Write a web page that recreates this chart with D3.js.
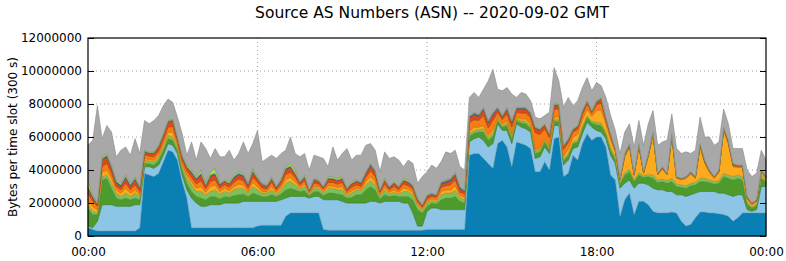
<!DOCTYPE html>
<html><head><meta charset="utf-8">
<script src="https://cdn.jsdelivr.net/npm/d3@7"></script>
<style>
html,body{margin:0;padding:0;background:#fff;}
svg{display:block;font-family:"DejaVu Sans",Verdana,sans-serif;}
</style></head>
<body>
<svg id="chart" width="786" height="261"></svg>
<script>
// Values in millions of bytes per 300 s slot; one point every 10 minutes, 00:00 .. 24:00
const minutes = d3.range(0, 1441, 10);
const xTickLabels = ["00:00", "06:00", "12:00", "18:00", "00:00"];
const yTickValues = [0, 2, 4, 6, 8, 10, 12];
const seriesNames = ["AS-a", "AS-b", "AS-c", "AS-d", "AS-e", "AS-f", "AS-g", "AS-h", "AS-i", "other"];

const asA = [.5,.4,.3,.3,.3,.3,.3,.3,.3,.3, .3,.5,3.8,3.7,3.6,3.8,4.5,5.2,5.1,4.6, 3.3,2.3,.5,.5,.5,.5,.5,.5,.5,.5,
 .5,.5,.5,.5,.5,.5,.6,.65,.65,.65, .65,.65,1.2,1.4,1.4,1.4,1.4,1.4,1.4,1.4, .4,.35,.35,.35,.35,.35,.35,.35,.35,.35,
 .35,.35,.35,.35,.35,.35,.35,.35,.35,.35, .35,.35,.4,.4,.4,.4,.4,.4,.4,.4, .4,4.9,5.0,5.0,4.7,4.4,4.1,5.6,5.8,5.4,
 4.2,5.7,5.6,5.5,5.3,3.9,3.9,4.5,4.0,5.9, 6.0,3.6,3.8,4.9,4.6,5.6,6.2,5.8,6.0,6.0, 5.4,3.7,3.4,1.2,2.2,2.6,1.3,2.1,2.1,1.9,
 1.5,1.4,1.4,1.4,1.45,1.4,.9,.6,.7,1.1, 1.45,1.45,1.4,1.4,1.35,1.3,1.2,.9,1.1,1.4, 1.4,1.4,1.4,1.4,1.4];
const asB = [.1,.1,.6,1.6,1.6,1.6,1.5,1.5,1.5,1.5, 1.6,1.4,.4,.5,.5,.5,.4,.4,.4,.4, .4,.5,1.8,1.5,1.3,1.3,1.4,1.4,1.4,1.5,
 1.5,1.5,1.5,1.6,1.6,1.6,1.5,1.45,1.45,1.45, 1.45,1.55,1.1,1.0,1.0,1.0,1.0,.9,1.0,1.0, 1.8,1.85,1.85,1.85,1.75,1.65,1.65,1.65,1.65,1.65,
 1.75,1.75,1.65,1.75,1.75,1.75,1.75,1.65,1.65,1.05, .25,.25,1.1,1.3,1.3,1.2,1.2,1.2,1.2,1.2, 1.2,.8,.9,1.0,1.1,1.0,1.5,1.2,.6,1.0,
 1.4,1.1,1.0,1.0,1.0,.8,.9,.9,1.0,.8, .7,.7,.8,.4,.8,.6,.7,.8,.4,.3, .5,1.2,1.0,1.7,1.0,.8,1.6,1.1,1.1,1.2,
 1.4,1.4,1.4,1.3,1.25,1.1,1.6,1.8,1.8,1.5, 1.25,1.25,1.3,1.3,1.25,1.3,1.3,1.5,1.4,1.1, .2,.1,.2,1.6,1.6];
const asC = [1.1,.8,.4,1.5,1.6,1.0,.5,.4,.5,.4, .4,.3,.2,.2,.2,.3,.3,.3,.3,.2, .3,.4,.4,.4,.5,.4,.5,.5,.35,.4,
 .35,.45,.5,.45,.3,.5,.4,.3,.3,.4, .3,.35,.5,.5,.4,.3,.35,.15,.3,.3, .25,.4,.4,.35,.4,.3,.35,.5,.5,.8,
 .9,.7,.25,.4,.3,.35,.3,.4,.4,.8, 1.0,.8,.3,.3,.25,.6,.7,.7,.8,.5, .4,.35,.35,.3,.5,.4,.45,.2,.2,.3,
 .3,.2,.25,.3,.25,.3,.3,.3,.25,.25, .25,.25,.3,.3,.3,.35,.3,.25,.35,.4, .3,.3,.25,.25,.5,.5,.4,.5,.35,.5,
 .6,.45,.5,.5,.6,.5,.45,.5,.55,.5, .6,.6,.55,.45,.6,1.0,1.0,1.0,1.0,.9, .35,.2,.25,.5,.3];
const asD = [.2,.2,.1,.2,.2,.3,.3,.2,.3,.2, .3,.2,.2,.15,.2,.2,.2,.2,.2,.2, .2,.3,.4,.3,.4,.3,.3,.4,.3,.3,
 .25,.35,.4,.35,.2,.4,.3,.2,.2,.3, .15,.25,.4,.4,.3,.15,.25,.1,.2,.2, .15,.3,.3,.25,.3,.15,.25,.3,.25,.3,
 .35,.3,.15,.3,.15,.2,.15,.3,.3,.3, .25,.15,.2,.15,.15,.3,.3,.3,.35,.2, .2,.15,.15,.15,.2,.15,.2,.1,.1,.15,
 .15,.1,.12,.15,.12,.15,.15,.1,.1,.1, .1,.1,.12,.1,.12,.1,.1,.1,.15,.15, .1,.15,.1,.1,.15,.15,.12,.15,.1,.15,
 .2,.15,.15,.15,.2,.15,.15,.15,.15,.15, .2,.2,.15,.15,.15,.2,.2,.2,.2,.2, .1,.08,.1,.2,.1];
const asE = [.3,.3,.2,.3,.3,.3,.2,.2,.3,.2, .2,.1,.1,.1,.1,.15,.2,.2,.3,.15, .15,.2,.2,.2,.3,.15,.3,.3,.15,.2,
 .15,.2,.25,.2,.1,.25,.2,.1,.1,.2, .1,.15,.25,.25,.2,.1,.15,.05,.1,.1, .1,.15,.15,.15,.2,.1,.15,.1,.1,.2,
 .25,.2,.1,.15,.1,.15,.1,.2,.15,.15, .1,.1,.1,.1,.1,.2,.2,.2,.3,.15, .15,.15,.2,.15,.2,.15,.2,.1,.1,.15,
 .15,.1,.13,.15,.13,.1,.1,.1,.1,.15, .2,.2,.25,.3,.35,.4,.4,.3,.7,.8, .5,.5,.35,.15,.95,1.35,.25,1.55,.15,1.05,
 2.4,.3,.6,.35,2.5,.35,.3,.45,.55,.25, 1.9,.9,.45,.2,.5,2.6,1.9,.6,.45,.55, .2,.12,.15,.2,.1];
const asF = [.4,.3,.2,.3,.4,.3,.2,.2,.3,.2, .3,.2,.2,.2,.2,.2,.25,.3,.35,.2, .25,.25,.25,.25,.35,.2,.3,.3,.2,.2,
 .2,.25,.3,.25,.2,.3,.25,.2,.15,.25, .15,.2,.3,.3,.25,.15,.2,.1,.2,.15, .15,.2,.2,.2,.25,.15,.2,.2,.15,.25,
 .35,.3,.15,.2,.15,.2,.15,.25,.2,.2, .15,.1,.15,.15,.15,.25,.25,.3,.35,.2, .2,.5,.45,.4,.6,.45,.55,.3,.25,.4,
 .4,.3,.35,.35,.35,1.0,.8,.6,.5,.5, .45,.4,.4,.3,.3,.3,.3,.2,.35,.4, .2,.2,.1,.05,.08,.08,.06,.08,.05,.08,
 .08,.05,.07,.05,.08,.05,.05,.05,.07,.05, .08,.08,.07,.05,.07,.08,.08,.08,.07,.07, .07,.05,.05,.05,.05];
const asG = [.3,.2,.1,.4,.4,.3,.2,.2,.3,.2, .3,.2,.2,.15,.2,.25,.25,.3,.35,.15, .2,.2,.25,.25,.35,.2,.3,.3,.2,.2,
 .2,.25,.25,.25,.2,.3,.2,.2,.15,.2, .12,.2,.25,.3,.2,.12,.2,.05,.2,.15, .1,.2,.2,.2,.2,.12,.2,.2,.2,.2,
 .3,.25,.1,.2,.12,.2,.12,.2,.2,.15, .1,.1,.15,.12,.1,.2,.2,.25,.3,.2, .15,.3,.3,.25,.35,.3,.35,.2,.17,.25,
 .25,.2,.23,.23,.23,.25,.25,.2,.17,.2, .2,.17,.15,.12,.15,.17,.12,.1,.15,.25, .12,.1,.06,.03,.06,.06,.04,.06,.03,.06,
 .06,.03,.05,.03,.06,.03,.03,.03,.05,.03, .06,.06,.05,.03,.05,.06,.06,.06,.05,.05, .05,.03,.03,.03,.03];
const asH = [.1,.1,.05,.1,.1,.1,.1,.1,.1,.1, .1,.05,.05,.05,.05,.05,.05,.05,.05,.05, .05,.05,.1,.1,.1,.05,.1,.1,.05,.05,
 .05,.1,.1,.1,.05,.1,.05,.05,.05,.05, .05,.05,.1,.1,.05,.05,.05,.03,.05,.05, .03,.05,.05,.05,.05,.05,.05,.05,.05,.1,
 .1,.1,.03,.05,.05,.05,.05,.05,.05,.05, .05,.03,.05,.05,.03,.1,.1,.1,.1,.1, .05,.1,.1,.1,.1,.1,.1,.07,.05,.1,
 .1,.07,.08,.08,.08,.07,.07,.07,.05,.07, .07,.05,.05,.05,.05,.05,.05,.03,.05,.05, .05,.03,.02,.01,.03,.03,.02,.03,.01,.03,
 .03,.01,.02,.01,.03,.01,.01,.01,.02,.01, .03,.03,.02,.01,.02,.03,.03,.03,.02,.02, .02,.01,.01,.01,.01];
const asI = [.4,.1,.05,.1,.1,.1,.1,.1,.1,.1, .1,.05,.05,.05,.05,.05,.05,.05,.05,.05, .05,.1,.1,.1,.2,.1,.2,.3,.05,.05,
 .1,.1,.1,.1,.05,.15,.1,.05,.05,.1, .03,.1,.1,.15,.2,.03,.1,.02,.05,.05, .02,.1,.1,.1,.1,.03,.1,.05,.05,.05,
 .05,.05,.02,.1,.03,.05,.03,.1,.1,.05, .05,.02,.05,.03,.02,.05,.05,.05,.1,.05, .05,.05,.05,.05,.05,.05,.05,.03,.03,.05,
 .05,.03,.04,.04,.04,.03,.03,.03,.03,.03, .03,.03,.03,.03,.03,.03,.03,.02,.05,.05, .03,.02,.02,.01,.03,.03,.01,.03,.01,.03,
 .03,.01,.01,.01,.03,.01,.01,.01,.01,.01, .03,.03,.01,.01,.01,.03,.03,.03,.01,.01, .01,.01,.01,.01,.01];
const other = [2.1,3.3,5.9,1.1,1.7,2.0,1.4,2.0,1.7,1.7, 2.3,2.0,1.8,1.7,1.9,1.8,1.7,1.3,1.0,1.2, 1.3,.6,1.7,1.0,1.7,2.1,.8,1.2,1.6,1.4,
 1.9,.9,1.1,1.9,1.8,1.5,2.8,1.3,1.6,1.3, 1.7,1.5,1.0,1.6,1.0,1.5,1.3,1.2,1.4,1.4, 1.7,.6,1.8,1.1,1.4,2.4,1.3,1.5,1.6,1.6,
 1.2,1.2,1.1,1.6,1.7,1.5,1.6,.7,1.2,1.3, .9,1.7,1.4,1.7,1.6,1.2,1.7,1.5,1.3,1.2, 1.2,1.1,1.2,1.0,1.1,2.4,2.6,1.1,1.5,1.2,
 1.6,.6,.9,.8,.7,.6,.6,.5,1.3,2.2, 1.4,2.3,2.5,1.4,1.5,1.4,1.4,1.2,1.1,.7, 1.2,1.1,1.1,1.5,1.3,1.2,1.6,1.4,1.6,1.8,
 1.3,1.7,1.5,2.0,1.2,1.7,1.5,1.5,1.1,1.6, 1.6,1.4,2.0,1.9,1.7,1.1,1.0,.9,1.0,1.0, 1.6,1.6,1.6,1.2,1.0];

const seriesValues = [asA, asB, asC, asD, asE, asF, asG, asH, asI, other];
const colors = ["#0a7fb4", "#8cc5e5", "#4d9a2d", "#7cc05c", "#fbab1d", "#f57f14", "#dc4a16", "#4466b0", "#a6dc44", "#a8a8a8"];

const table = minutes.map((m, i) => {
  const row = {t: m};
  seriesNames.forEach((k, j) => row[k] = seriesValues[j][i]);
  return row;
});

const svg = d3.select("#chart");
const M = {left: 88, right: 766, top: 38, bottom: 236};
const x = d3.scaleLinear().domain([0, 1440]).range([M.left, M.right]);
const y = d3.scaleLinear().domain([0, 12]).range([M.bottom, M.top]);

// grid
const grid = svg.append("g");
yTickValues.slice(1, -1).forEach(v => {
  grid.append("line").attr("x1", M.left).attr("x2", M.right).attr("y1", y(v)).attr("y2", y(v))
    .attr("stroke", "#a0a0a0").attr("stroke-width", 1).attr("stroke-dasharray", "1,3");
});
[360, 720, 1080].forEach(v => {
  grid.append("line").attr("x1", x(v)).attr("x2", x(v)).attr("y1", M.top).attr("y2", M.bottom)
    .attr("stroke", "#a0a0a0").attr("stroke-width", 1).attr("stroke-dasharray", "1,3");
});

const stack = d3.stack().keys(seriesNames);
const layers = stack(table);
const area = d3.area().x(d => x(d.data.t)).y0(d => y(d[0])).y1(d => y(d[1]));
svg.append("g").selectAll("path").data(layers).join("path")
  .attr("d", area)
  .attr("fill", (d, i) => colors[i])
  .attr("stroke", (d, i) => d3.color(colors[i]).darker(0.6))
  .attr("stroke-width", 0.6);

// frame
svg.append("rect").attr("x", M.left).attr("y", M.top).attr("width", M.right - M.left).attr("height", M.bottom - M.top)
  .attr("fill", "none").attr("stroke", "#000").attr("stroke-width", 1.2);

// axes
const yFmt = v => v === 0 ? "0" : String(v * 1000000);
svg.append("g").attr("transform", `translate(${M.left},0)`)
  .call(d3.axisRight(y).tickValues(yTickValues).tickSize(6).tickFormat(""))
  .call(g => g.select(".domain").remove());
svg.append("g").attr("transform", `translate(${M.right},0)`)
  .call(d3.axisLeft(y).tickValues(yTickValues).tickSize(6).tickFormat(""))
  .call(g => g.select(".domain").remove());
const yLab = svg.append("g").attr("transform", `translate(${M.left},0)`)
  .call(d3.axisLeft(y).tickValues(yTickValues).tickSize(0).tickPadding(6).tickFormat(yFmt))
  .call(g => g.select(".domain").remove());
yLab.selectAll("text").attr("font-size", 12).attr("font-family", "DejaVu Sans").attr("fill", "#000");

const xAx = svg.append("g").attr("transform", `translate(0,${M.bottom})`)
  .call(d3.axisBottom(x).tickValues([0, 360, 720, 1080, 1440]).tickSize(0).tickPadding(11)
    .tickFormat((d, i) => xTickLabels[i]))
  .call(g => g.select(".domain").remove());
xAx.selectAll("text").attr("font-size", 12).attr("font-family", "DejaVu Sans").attr("fill", "#000");

svg.append("text").attr("x", 432).attr("y", 18).attr("text-anchor", "middle")
  .attr("font-size", 15.5).attr("fill", "#000").text("Source AS Numbers (ASN) -- 2020-09-02 GMT");
svg.append("text").attr("transform", `translate(17,${(M.top + M.bottom) / 2}) rotate(-90)`)
  .attr("text-anchor", "middle").attr("font-size", 12).attr("fill", "#000")
  .text("Bytes per time slot (300 s)");
</script>
</body></html>
